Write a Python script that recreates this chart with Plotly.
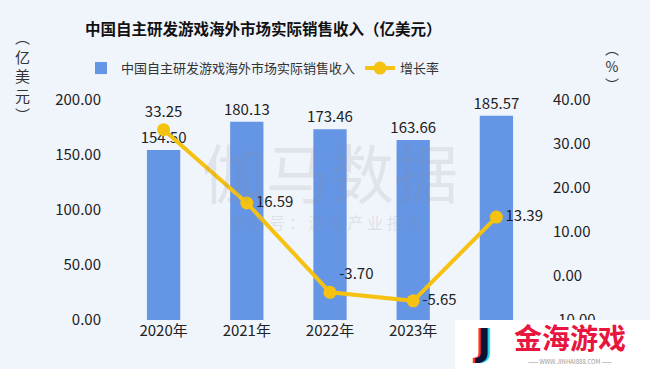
import plotly.graph_objects as go

years = ["2020年", "2021年", "2022年", "2023年", "2024年"]
revenue = [154.50, 180.13, 173.46, 163.66, 185.57]
growth = [33.25, 16.59, -3.70, -5.65, 13.39]
left_ticks = [0, 50, 100, 150, 200]
right_ticks = [-10, 0, 10, 20, 30, 40]

FONT = "Noto Sans CJK SC"
BG = "#F0F4FB"
BAR = "#6595E5"
LINE = "#F5C211"

fig = go.Figure()
fig.add_trace(go.Bar(
    x=years, y=revenue, name="中国自主研发游戏海外市场实际销售收入",
    marker=dict(color=BAR, line=dict(width=0)),
    text=[f"{v:.2f}" for v in revenue], textposition="outside",
    textfont=dict(size=15, color="#222222", family=FONT),
    constraintext="none", cliponaxis=False,
))
fig.add_trace(go.Scatter(
    x=years, y=growth, name="增长率", yaxis="y2", mode="lines+markers+text",
    line=dict(color=LINE, width=4), marker=dict(color=LINE, size=13),
    text=[f"{v:.2f}" for v in growth],
    textposition=["top center", "middle right", "top right", "middle right", "middle right"],
    textfont=dict(size=15, color="#222222", family=FONT),
    cliponaxis=False,
))

fig.update_layout(
    width=650, height=369,
    margin=dict(l=122, r=112, t=100, b=49),
    paper_bgcolor=BG, plot_bgcolor=BG,
    font=dict(family=FONT, color="#222222"),
    bargap=0.6,
    showlegend=True,
    legend=dict(orientation="h", x=(263 - 122) / 416, xanchor="center", y=1.145, yanchor="middle",
                font=dict(size=13, color="#333333", family=FONT), bgcolor="rgba(0,0,0,0)",
                itemwidth=30, traceorder="normal"),
    title=dict(text="<b>中国自主研发游戏海外市场实际销售收入（亿美元）</b>",
               x=0.405, xanchor="center", y=1 - 30 / 369, yanchor="middle",
               font=dict(size=15.5, color="#111111", family=FONT)),
    xaxis=dict(showgrid=False, showline=False, zeroline=False, ticks="",
               tickfont=dict(size=15, color="#222222", family=FONT)),
    yaxis=dict(range=[0, 200], tickvals=left_ticks, ticktext=[f"{v:.2f}" for v in left_ticks],
               showgrid=False, zeroline=False, showline=False, ticks="",
               ticklabelstandoff=20,
               tickfont=dict(size=15, color="#222222", family=FONT)),
    yaxis2=dict(range=[-10, 40], tickvals=right_ticks, ticktext=[f"{v:.2f}" for v in right_ticks],
                overlaying="y", side="right", showgrid=False, zeroline=False, showline=False,
                ticks="", ticklabelstandoff=14,
                tickfont=dict(size=15, color="#222222", family=FONT)),
)


def px_ann(xp, yp, text, size, color, family=FONT):
    fig.add_annotation(xref="paper", yref="paper",
                       x=(xp - 122) / 416, y=(320 - yp) / 220,
                       xanchor="center", yanchor="middle",
                       text=text, showarrow=False, align="center",
                       font=dict(size=size, color=color, family=family))


# axis titles (vertical)
px_ann(22, 75, "︵<br>亿<br>美<br>元<br>︶", 15, "#333333")
px_ann(612, 66, "︵<br>%<br>︶", 14, "#333333")

# watermark
px_ann(330, 170, "伽马数据", 64, "rgba(140,140,150,0.16)")
px_ann(326, 222, "微 信 号 ： 游 戏 产 业 报 告", 16, "rgba(140,140,150,0.2)")

# corner logo overlay
fig.add_shape(type="rect", xref="paper", yref="paper",
              x0=(455 - 122) / 416, x1=(650 - 122) / 416, y0=-49 / 220, y1=0,
              fillcolor="white", line=dict(width=0), layer="above")
for dx, col in [(-2, "#FF2D55"), (2, "#22D3E6"), (0, "#0E1230")]:
    px_ann(482 + dx, 342, "<b>J</b>", 38, col, "DejaVu Sans")
px_ann(570, 337, "<b>金海游戏</b>", 28, "#E8163F")
px_ann(570, 361, "—— WWW.JINHAI888.COM ——", 6, "#999999")

fig.write_html("out.html", config={"displayModeBar": False},
               post_script="document.body.style.margin='0';document.body.style.overflow='hidden';")
